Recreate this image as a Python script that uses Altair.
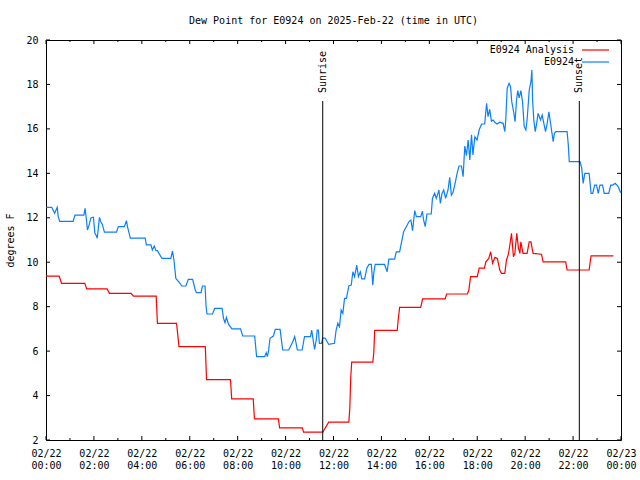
import altair as alt
import pandas as pd

# ---- data (hours since 02/22 00:00 UTC, degrees F) ----
red_t = [0.00, 0.55, 0.65, 1.62, 1.70, 2.55, 2.65, 3.55, 3.65, 4.60, 4.65, 5.45, 5.55, 6.65, 6.70,
         7.70, 7.75, 8.65, 8.70, 9.70, 9.75, 10.70, 10.75, 11.55, 11.80, 12.64, 12.68, 12.72, 12.76,
         13.64, 13.68, 13.72, 14.66, 14.70, 14.76, 15.64, 15.72, 16.66, 16.72, 17.59, 17.65, 17.72,
         18.00, 18.08, 18.30, 18.36, 18.48, 18.56, 18.64, 18.74, 18.84, 18.94, 19.01, 19.15, 19.22,
         19.29, 19.33, 19.39, 19.43, 19.51, 19.57, 19.65, 19.72, 19.78, 19.82, 19.91, 20.08, 20.17,
         20.24, 20.33, 20.68, 20.75, 21.69, 21.75, 22.67, 22.75, 23.68]
red_v = [9.37, 9.37, 9.05, 9.05, 8.80, 8.80, 8.60, 8.60, 8.47, 8.47, 7.25, 7.25, 6.20, 6.20, 4.72,
         4.72, 3.85, 3.85, 2.95, 2.95, 2.55, 2.55, 2.35, 2.35, 2.80, 2.80, 3.42, 4.82, 5.50,
         5.50, 5.90, 6.93, 6.93, 7.40, 7.97, 7.97, 8.35, 8.35, 8.57, 8.57, 8.75, 9.35,
         9.35, 9.73, 9.73, 10.02, 10.17, 10.47, 9.95, 10.22, 10.17, 9.65, 9.50, 9.50, 10.10,
         10.33, 10.55, 11.00, 11.30, 10.25, 10.40, 11.30, 10.63, 10.40, 10.92, 10.40, 10.40, 10.92,
         10.92, 10.40, 10.36, 10.02, 10.02, 9.65, 9.65, 10.29, 10.29]

blue_t = [0.01, 0.24, 0.36, 0.47, 0.51, 0.57, 1.13, 1.21, 1.58, 1.63, 1.69, 1.73, 1.80, 1.87, 1.94,
          1.98, 2.04, 2.10, 2.14, 2.19, 2.23, 2.29, 2.35, 2.44, 2.94, 3.02, 3.27, 3.36, 3.40, 3.47,
          3.52, 4.14, 4.19, 4.38, 4.44, 4.52, 4.59, 4.65, 4.84, 5.21, 5.28, 5.34, 5.42, 5.56, 5.67,
          5.84, 5.94, 6.12, 6.23, 6.28, 6.47, 6.53, 6.64, 6.68, 6.72, 6.95, 7.04, 7.35, 7.41, 7.47,
          7.53, 7.62, 7.76, 8.12, 8.21, 8.71, 8.79, 9.13, 9.19, 9.24, 9.29, 9.35, 9.49, 9.57, 9.77,
          9.88, 10.13, 10.30, 10.38, 10.44, 10.49, 10.69, 10.79, 11.04, 11.09, 11.13, 11.21, 11.28,
          11.32, 11.37, 11.41, 11.50, 11.55, 11.65, 11.80, 12.04, 12.11, 12.18, 12.25, 12.32, 12.39,
          12.46, 12.54, 12.64, 12.74, 12.81, 12.88, 12.97, 13.04, 13.12, 13.18, 13.30, 13.39, 13.48,
          13.58, 13.64, 13.68, 13.74, 14.13, 14.24, 14.31, 14.55, 14.62, 14.76, 14.83, 14.93, 15.04,
          15.15, 15.23, 15.30, 15.39, 15.46, 15.64, 15.71, 15.76, 15.83, 15.90, 16.08, 16.13, 16.22,
          16.29, 16.36, 16.40, 16.46, 16.53, 16.60, 16.68, 16.78, 16.85, 16.92, 16.99, 17.06, 17.16,
          17.24, 17.34, 17.41, 17.48, 17.55, 17.62, 17.69, 17.76, 17.82, 17.90, 17.99, 18.08, 18.18,
          18.31, 18.39, 18.45, 18.52, 18.59, 18.66, 18.73, 18.83, 18.94, 19.08, 19.15, 19.19, 19.25,
          19.33, 19.39, 19.44, 19.53, 19.58, 19.64, 19.69, 19.75, 19.82, 19.89, 19.96, 20.03, 20.08,
          20.17, 20.24, 20.28, 20.31, 20.36, 20.42, 20.48, 20.54, 20.64, 20.71, 20.78, 20.85, 20.92,
          20.99, 21.06, 21.11, 21.17, 21.22, 21.28, 21.75, 21.80, 21.84, 22.29, 22.36, 22.42, 22.49,
          22.67, 22.75, 22.82, 22.90, 22.98, 23.05, 23.12, 23.23, 23.30, 23.49, 23.57, 23.65, 23.76,
          23.88, 23.99]
blue_v = [12.47, 12.47, 12.20, 12.47, 12.05, 11.84, 11.84, 12.12, 12.12, 12.42, 11.90, 11.45, 11.67, 11.98, 12.02,
          12.02, 11.30, 11.20, 11.08, 11.60, 12.02, 11.82, 11.70, 11.35, 11.35, 11.60, 11.60, 11.87, 11.60, 11.30,
          11.08, 11.08, 10.78, 10.78, 10.55, 10.73, 10.52, 10.52, 10.17, 10.17, 10.50, 10.10, 9.27, 9.09, 8.93,
          8.93, 9.23, 9.23, 8.75, 8.63, 8.63, 8.93, 8.93, 8.03, 7.67, 7.67, 7.92, 7.92, 7.47, 7.28,
          7.52, 7.20, 7.00, 7.00, 6.68, 6.68, 5.75, 5.75, 5.93, 5.75, 6.02, 6.58, 6.68, 6.98, 6.98,
          6.05, 6.05, 6.42, 6.65, 6.35, 6.05, 6.05, 6.65, 6.65, 6.95, 6.65, 6.08, 6.50,
          6.95, 6.95, 6.35, 6.35, 6.58, 6.58, 6.30, 6.35, 6.95, 7.25, 7.10, 7.85, 7.70,
          8.37, 8.37, 8.93, 8.97, 9.57, 9.35, 9.87, 9.35, 9.57, 9.25, 9.25, 9.73, 9.90,
          9.90, 8.97, 9.50, 9.90, 9.90, 9.57, 10.14, 10.14, 10.47, 10.47, 10.85, 11.38, 11.60,
          11.83, 11.90, 11.42, 12.32, 12.05, 12.05, 12.30, 11.90, 11.60, 12.17, 12.17, 12.87, 13.10,
          12.87, 13.10, 13.25, 12.65, 13.10, 13.25, 12.87, 13.25, 13.82, 13.02, 13.15, 13.47, 14.00,
          14.33, 14.33, 13.85, 15.23, 14.80, 15.50, 14.60, 15.73, 14.83, 15.65, 15.50, 15.95, 16.22,
          16.22, 17.15, 16.55, 16.88, 16.35, 16.40, 16.30, 16.22, 16.30, 16.25, 15.88, 16.40, 17.83,
          18.05, 17.90, 17.22, 16.70, 16.32, 17.30, 17.72, 17.40, 17.72, 17.22, 16.10, 15.95, 16.40,
          17.75, 18.12, 18.65, 17.30, 16.40, 15.88, 16.25, 16.70, 16.40, 16.62, 16.25, 15.88, 16.25,
          16.77, 16.25, 15.88, 15.43, 15.80, 15.88, 15.88, 15.28, 14.53, 14.53, 14.23, 13.55, 14.00,
          14.00, 13.10, 13.10, 13.47, 13.47, 13.10, 13.47, 13.47, 13.10, 13.10, 13.47, 13.47, 13.55,
          13.40, 13.13]

event_names = ["Sunrise", "Sunset"]
event_hours = [11.55, 22.26]

legend_labels = ["E0924 Analysis", "E0924"]
legend_colors = ["#ff0000", "#0a7fff"]

x_major = list(range(0, 25, 2))
x_minor = list(range(1, 24, 2))
y_ticks = list(range(2, 21, 2))

FONT = "DejaVu Sans Mono"
W, H = 575, 400

xs = alt.Scale(domain=[0, 24], nice=False, zero=False)
ys = alt.Scale(domain=[2, 20], nice=False, zero=False)

red_df = pd.DataFrame({"t": red_t, "v": red_v})
blue_df = pd.DataFrame({"t": blue_t, "v": blue_v})
ev_df = pd.DataFrame({"name": event_names, "t": event_hours})
xmaj_df = pd.DataFrame({"t": x_major})
xmin_df = pd.DataFrame({"t": x_minor})
yt_df = pd.DataFrame({"v": y_ticks})

label_expr = ("datum.value == 24 ? ['02/23', '00:00'] : "
              "(datum.value % 2 == 0 ? ['02/22', (datum.value < 10 ? '0' : '') + datum.value + ':00'] : '')")

x_axis = alt.Axis(values=x_major, labelExpr=label_expr, ticks=False, domain=False, grid=False,
                  labelFont=FONT, labelFontSize=10, labelPadding=8, labelLineHeight=12,
                  labelColor="black", title=None, labelFlush=False, labelOverlap=False)
y_axis = alt.Axis(values=y_ticks, ticks=False, domain=False, grid=False, labelFont=FONT,
                  labelFontSize=10, labelPadding=8, labelColor="black", title="degrees F",
                  titleFont=FONT, titleFontSize=10, titleFontWeight="normal", titleColor="black",
                  titleX=-36, titleY=200, titleAngle=270, titleAlign="center", titleBaseline="middle")

X = lambda: alt.X("t:Q", scale=xs, axis=x_axis)
Y = lambda: alt.Y("v:Q", scale=ys, axis=y_axis)

red_line = alt.Chart(red_df).mark_line(color="#ff0000", strokeWidth=1.2).encode(
    x=X(), y=Y(), order="t:Q")
blue_line = alt.Chart(blue_df).mark_line(color="#0a7fff", strokeWidth=1.2).encode(
    x=X(), y=Y(), order="t:Q")

ev_rule = alt.Chart(ev_df).mark_rule(color="black", strokeWidth=1).encode(
    x=X(), y=alt.value(61), y2=alt.value(H))
ev_text = alt.Chart(ev_df).mark_text(font=FONT, fontSize=10, angle=270, align="left",
                                     baseline="middle", color="black").encode(
    x=X(), y=alt.value(53), text="name:N")

legend_layers = []
for i, (lab, col) in enumerate(zip(legend_labels, legend_colors)):
    ldf = pd.DataFrame({"label": [lab], "color": [col]})
    yy = 10 + 12 * i
    legend_layers.append(
        alt.Chart(ldf).mark_text(font=FONT, fontSize=10, align="right", baseline="middle",
                                 color="black").encode(
            x=alt.value(528), y=alt.value(yy), text="label:N"))
    legend_layers.append(
        alt.Chart(ldf).mark_rule(strokeWidth=1.2).encode(
            x=alt.value(536), x2=alt.value(563), y=alt.value(yy),
            color=alt.Color("color:N", scale=None)))

def hticks(df, y0, y1):
    return alt.Chart(df).mark_rule(color="black", strokeWidth=1).encode(
        x=X(), y=alt.value(y0), y2=alt.value(y1))

def vticks(x0, x1):
    return alt.Chart(yt_df).mark_rule(color="black", strokeWidth=1).encode(
        y=Y(), x=alt.value(x0), x2=alt.value(x1))

ticks = [hticks(xmaj_df, H, H - 4), hticks(xmin_df, H, H - 2),
         hticks(xmaj_df, 0, 4), hticks(xmin_df, 0, 2),
         vticks(0, 4), vticks(W, W - 4)]

chart = alt.layer(red_line, blue_line, ev_rule, ev_text, *legend_layers, *ticks).properties(
    width=W, height=H,
    title=alt.Title("Dew Point for E0924 on 2025-Feb-22 (time in UTC)", font=FONT, fontSize=10,
                    fontWeight="normal", color="black", anchor="middle", offset=9),
    autosize=alt.AutoSizeParams(type="none"),
    padding={"left": 46, "top": 40, "right": 19, "bottom": 40},
    background="white",
).configure_view(stroke="black", strokeWidth=1)

chart.save("out.html", embed_options={"renderer": "svg", "actions": False})
